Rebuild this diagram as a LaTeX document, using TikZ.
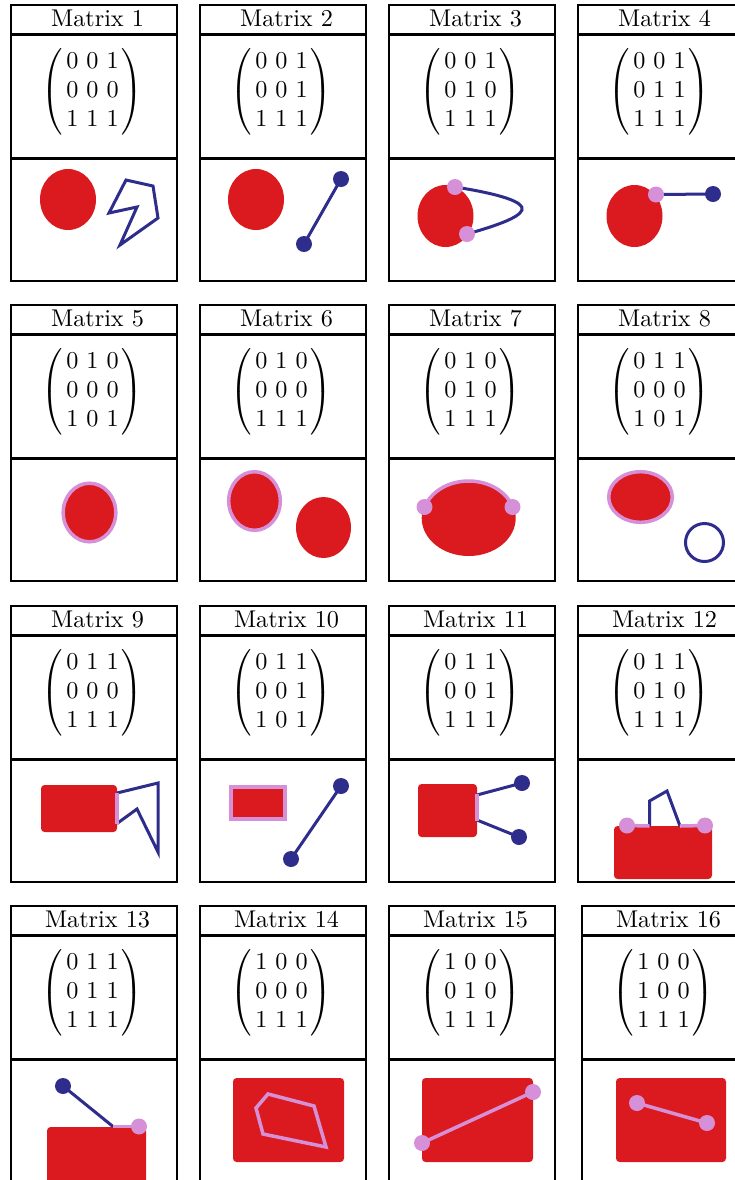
\documentclass[tikz,border=0pt]{standalone}
\usepackage{amsmath}
\definecolor{cred}{HTML}{DA1A1E}
\definecolor{cblue}{HTML}{2E2D8C}
\definecolor{clil}{HTML}{D590D8}
\tikzset{
  cardframe/.style={draw=black, line width=0.91pt},
  titletext/.style={anchor=base, inner sep=0pt},
  matnode/.style={inner sep=0pt},
  blueline/.style={draw=cblue, line width=1.24pt},
  lilline/.style={draw=clil, line width=1.45pt},
  bdot/.style={fill=cblue},
  ldot/.style={fill=clil}
}
\newcommand\mcard[6]{%
  \draw[cardframe] (#1,#2) rectangle ++(166,276);
  \draw[cardframe] ({#1},{#2+29.5}) -- ++(166,0);
  \draw[cardframe] ({#1},{#2+153.5}) -- ++(166,0);
  \node[titletext] (t#3) at ({#1+86.5},{#2+21.5}) {Matrix #3};
  \node[matnode] (m#3) at ({#1+81.5},{#2+87}) {$\left(\hspace{1.3pt}\begin{matrix}#4\\#5\\#6\end{matrix}\hspace{1.3pt}\right)$};
}
\begin{document}
\begin{tikzpicture}[x=0.4132pt, y=-0.4132pt]
\clip (0,0) rectangle (735,1180);
\fill[white] (0,0) rectangle (735,1180);
% cards
\mcard{11}{5}{1}{0\ 0\ 1}{0\ 0\ 0}{1\ 1\ 1}
\mcard{200}{5}{2}{0\ 0\ 1}{0\ 0\ 1}{1\ 1\ 1}
\mcard{389}{5}{3}{0\ 0\ 1}{0\ 1\ 0}{1\ 1\ 1}
\mcard{578}{5}{4}{0\ 0\ 1}{0\ 1\ 1}{1\ 1\ 1}
\mcard{11}{305}{5}{0\ 1\ 0}{0\ 0\ 0}{1\ 0\ 1}
\mcard{200}{305}{6}{0\ 1\ 0}{0\ 0\ 0}{1\ 1\ 1}
\mcard{389}{305}{7}{0\ 1\ 0}{0\ 1\ 0}{1\ 1\ 1}
\mcard{578}{305}{8}{0\ 1\ 1}{0\ 0\ 0}{1\ 0\ 1}
\mcard{11}{606}{9}{0\ 1\ 1}{0\ 0\ 0}{1\ 1\ 1}
\mcard{200}{606}{10}{0\ 1\ 1}{0\ 0\ 1}{1\ 0\ 1}
\mcard{389}{606}{11}{0\ 1\ 1}{0\ 0\ 1}{1\ 1\ 1}
\mcard{578}{606}{12}{0\ 1\ 1}{0\ 1\ 0}{1\ 1\ 1}
\mcard{11}{906}{13}{0\ 1\ 1}{0\ 1\ 1}{1\ 1\ 1}
\mcard{200}{906}{14}{1\ 0\ 0}{0\ 0\ 0}{1\ 1\ 1}
\mcard{389}{906}{15}{1\ 0\ 0}{0\ 1\ 0}{1\ 1\ 1}
\mcard{582}{906}{16}{1\ 0\ 0}{1\ 0\ 0}{1\ 1\ 1}
% card 1
\fill[cred] (68,199.5) ellipse[x radius=28, y radius=30.5];
\draw[blueline] (126,180) -- (153,186) -- (158,218) -- (120,245) -- (137,207) -- (109,213) -- cycle;
% card 2
\fill[cred] (256,199.5) ellipse[x radius=28, y radius=30.5];
\coordinate (p2a) at (341,179);
\coordinate (p2b) at (304,244);
\draw[blueline] (p2a) -- (p2b);
\fill[bdot] (p2a) circle[radius=8];
\fill[bdot] (p2b) circle[radius=8];
% card 3
\fill[cred] (445.5,216) ellipse[x radius=28, y radius=31];
\coordinate (p3a) at (455,187);
\coordinate (p3b) at (467,234);
\draw[blueline] (p3a) .. controls (500,194) and (525,202) .. (522,210) .. controls (519,218) and (495,226) .. (p3b);
\fill[ldot] (p3a) circle[radius=8];
\fill[ldot] (p3b) circle[radius=8];
% card 4
\fill[cred] (634.5,216) ellipse[x radius=28, y radius=31];
\coordinate (p4a) at (656,194.5);
\coordinate (p4b) at (713,194);
\draw[blueline] (p4a) -- (p4b);
\fill[ldot] (p4a) circle[radius=8];
\fill[bdot] (p4b) circle[radius=8];
% card 5
\draw[lilline, fill=cred] (89.5,512.5) ellipse[x radius=26.3, y radius=29.3];
% card 6
\draw[lilline, fill=cred] (254.5,501) ellipse[x radius=25.8, y radius=29.3];
\fill[cred] (323.5,527.5) ellipse[x radius=27.5, y radius=30.5];
% card 7
\fill[cred] (468.7,518) ellipse[x radius=47, y radius=38];
\begin{scope}
  \clip (400,460) rectangle (540,507);
  \draw[lilline] (468.7,518) ellipse[x radius=46, y radius=37];
\end{scope}
\fill[ldot] (424.5,507) circle[radius=8];
\fill[ldot] (512.5,507) circle[radius=8];
% card 8
\draw[lilline, fill=cred] (640.5,497) ellipse[x radius=31.8, y radius=25.3];
\draw[blueline] (704.5,542.5) circle[radius=19];
% card 9
\fill[cred, rounded corners=1.5] (41,785) rectangle (117,832);
\draw[blueline] (117,793) -- (158,783) -- (158,852) -- (137,809) -- (117,823.5);
\draw[lilline] (117,792.5) -- (117,824);
% card 10
\draw[lilline, fill=cred] (230.8,786.8) rectangle (285.2,819.2);
\coordinate (p10a) at (341,786);
\coordinate (p10b) at (291,859);
\draw[blueline] (p10a) -- (p10b);
\fill[bdot] (p10a) circle[radius=8];
\fill[bdot] (p10b) circle[radius=8];
% card 11
\fill[cred, rounded corners=1.5] (418,784) rectangle (477,837);
\coordinate (p11a) at (522,783);
\coordinate (p11b) at (519,837);
\draw[blueline] (477,795) -- (p11a);
\draw[blueline] (477,820) -- (p11b);
\draw[lilline] (477,794) -- (477,821);
\fill[bdot] (p11a) circle[radius=8];
\fill[bdot] (p11b) circle[radius=8];
% card 12
\fill[cred, rounded corners=1.5] (614,826) rectangle (712,879);
\draw[blueline] (649.5,826) -- (649.5,801) -- (667,791) -- (680,826);
\coordinate (p12a) at (627,825.5);
\coordinate (p12b) at (705,825.5);
\draw[lilline] (p12a) -- (649.5,826);
\draw[lilline] (680,826) -- (p12b);
\fill[ldot] (p12a) circle[radius=8];
\fill[ldot] (p12b) circle[radius=8];
% card 13
\fill[cred, rounded corners=1.5] (47,1127) rectangle (146,1190);
\coordinate (p13a) at (63,1086);
\coordinate (p13b) at (139,1126.5);
\draw[blueline] (p13a) -- (113,1126.5);
\draw[lilline] (113,1126.5) -- (p13b);
\fill[bdot] (p13a) circle[radius=8];
\fill[ldot] (p13b) circle[radius=8];
% card 14
\fill[cred, rounded corners=1.5] (233,1078) rectangle (344,1162);
\draw[lilline] (268,1094) -- (314,1106) -- (326,1147) -- (263,1134) -- (256,1108) -- cycle;
% card 15
\fill[cred, rounded corners=1.5] (422,1078) rectangle (533,1162);
\coordinate (p15a) at (422,1143);
\coordinate (p15b) at (533,1092);
\draw[lilline] (p15a) -- (p15b);
\fill[ldot] (p15a) circle[radius=8];
\fill[ldot] (p15b) circle[radius=8];
% card 16
\fill[cred, rounded corners=1.5] (616,1078) rectangle (726,1162);
\coordinate (p16a) at (637,1103);
\coordinate (p16b) at (707,1123);
\draw[lilline] (p16a) -- (p16b);
\fill[ldot] (p16a) circle[radius=8];
\fill[ldot] (p16b) circle[radius=8];
\end{tikzpicture}
\end{document}
